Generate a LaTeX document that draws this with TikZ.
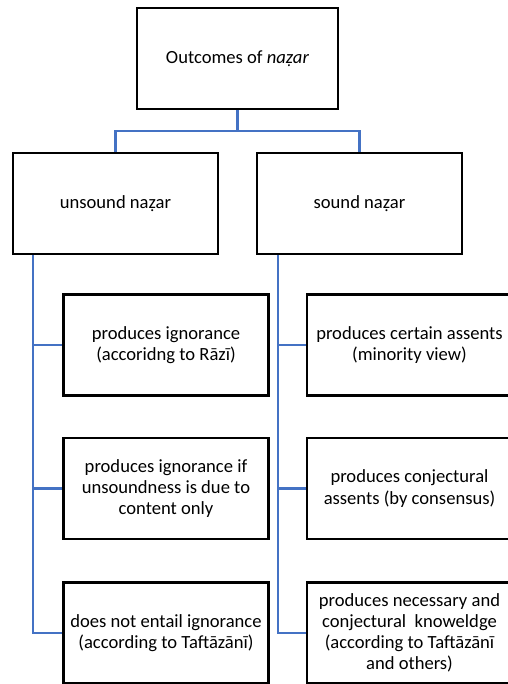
\documentclass[tikz,border=0pt]{standalone}
\usepackage{fontspec}
\setmainfont{Carlito}
\definecolor{linkblue}{HTML}{4472C4}
\usetikzlibrary{positioning}
\tikzset{
	outcomebox/.style={
			draw=black,
			line width=1.6pt,
			fill=white,
			align=center,
			inner sep=2pt,
			font=\fontsize{11.9}{13.5}\selectfont,
			minimum width=131pt,
			minimum height=64.6pt
		},
	topbox/.style={
			outcomebox,
			minimum width=128.6pt
		},
	branchline/.style={
			draw=linkblue,
			line width=1.4pt
		}
}
\begin{document}
\begin{tikzpicture}[x=0.64pt, y=-0.64pt]
	\useasboundingbox (0,0) rectangle (507,684);

	\node[topbox] (outcomes) at (237.5, 58.5) {Outcomes of \textit{naẓar}};

	\node[outcomebox] (unsound) at (115.5, 203.5) {unsound naẓar};
	\node[outcomebox] (sound) at (359.5, 203.5) {sound naẓar};

	\node[outcomebox] (ignA) at (166, 345) {produces ignorance\\(accoridng to Rāzī)};
	\node[outcomebox] (ignB) at (166, 488.5) {produces ignorance if\\unsoundness is due to\\content only};
	\node[outcomebox] (ignC) at (166, 633) {does not entail ignorance\\(according to Taftāzānī)};

	\node[outcomebox] (assA) at (409.5, 345) {produces certain assents\\(minority view)};
	\node[outcomebox] (assB) at (409.5, 488.5) {produces conjectural\\assents (by consensus)};
	\node[outcomebox] (assC) at (409.5, 633) {produces necessary and\\conjectural\ \ knoweldge\\(according to Taftāzānī\\and others)};

	% top split
	\coordinate (split) at ([yshift=-13.4pt]outcomes.south);
	\draw[branchline] (outcomes.south) -- (split);
	\draw[branchline] (split) -| (unsound.north);
	\draw[branchline] (split) -| (sound.north);

	% spines
	\coordinate (uspine) at ([xshift=13.4pt]unsound.south west);
	\coordinate (sspine) at ([xshift=14pt]sound.south west);
	\draw[branchline] (uspine) |- (ignA.west);
	\draw[branchline] (uspine) |- (ignB.west);
	\draw[branchline] (uspine) |- (ignC.west);
	\draw[branchline] (sspine) |- (assA.west);
	\draw[branchline] (sspine) |- (assB.west);
	\draw[branchline] (sspine) |- (assC.west);
\end{tikzpicture}
\end{document}
